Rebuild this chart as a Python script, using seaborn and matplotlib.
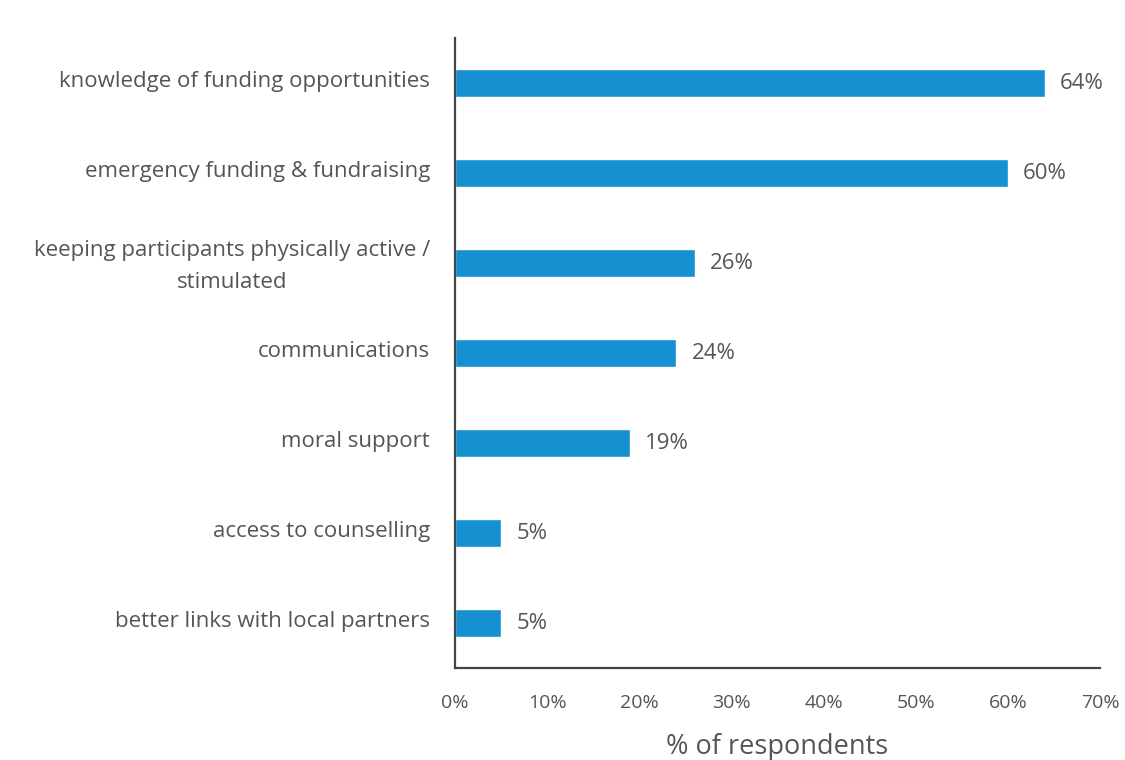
import matplotlib
matplotlib.use("Agg")
import matplotlib.pyplot as plt
import matplotlib.transforms as mtransforms
import seaborn as sns
import pandas as pd
from matplotlib.ticker import FuncFormatter

categories = [
    "knowledge of funding opportunities",
    "emergency funding & fundraising",
    "keeping participants physically active /\nstimulated",
    "communications",
    "moral support",
    "access to counselling",
    "better links with local partners",
]
values = [64, 60, 26, 24, 19, 5, 5]
x_ticks = [0, 10, 20, 30, 40, 50, 60, 70]

df = pd.DataFrame({"need": categories, "pct": values})

sns.set_theme(style="white")
plt.rcParams["font.family"] = ["Open Sans", "DejaVu Sans"]

text_color = "#555555"
bar_color = "#1591D2"

fig = plt.figure(figsize=(11.25, 7.6), dpi=100)
ax = fig.add_axes([0.4044, 0.121, 0.5734, 0.829])

sns.barplot(data=df, x="pct", y="need", orient="h", color=bar_color,
            width=0.32, saturation=1, ax=ax)

for container in ax.containers:
    ax.bar_label(container, labels=[f"{v}%" for v in values], padding=11,
                 fontsize=16, color=text_color)

ax.set_xlim(0, 70)
ax.set_ylim(6.5, -0.5)
ax.set_xticks(x_ticks)
ax.xaxis.set_major_formatter(FuncFormatter(lambda v, _: f"{v:.0f}%"))
ax.set_xlabel("% of respondents", fontsize=19.5, color=text_color, labelpad=15)
ax.set_ylabel("")

ax.tick_params(axis="both", length=0, colors=text_color)
ax.tick_params(axis="x", pad=19, labelsize=14)
ax.tick_params(axis="y", pad=18, labelsize=16)

# nudge category labels slightly upward
lift = mtransforms.ScaledTranslation(0, 3 / 72, fig.dpi_scale_trans)
for lbl in ax.get_yticklabels():
    lbl.set_multialignment("center")
    lbl.set_linespacing(1.65)
    lbl.set_transform(lbl.get_transform() + lift)

for side in ["top", "right"]:
    ax.spines[side].set_visible(False)
for side in ["left", "bottom"]:
    ax.spines[side].set_color("#444444")
    ax.spines[side].set_linewidth(1.6)

fig.savefig("out.png", dpi=100, facecolor="white")
